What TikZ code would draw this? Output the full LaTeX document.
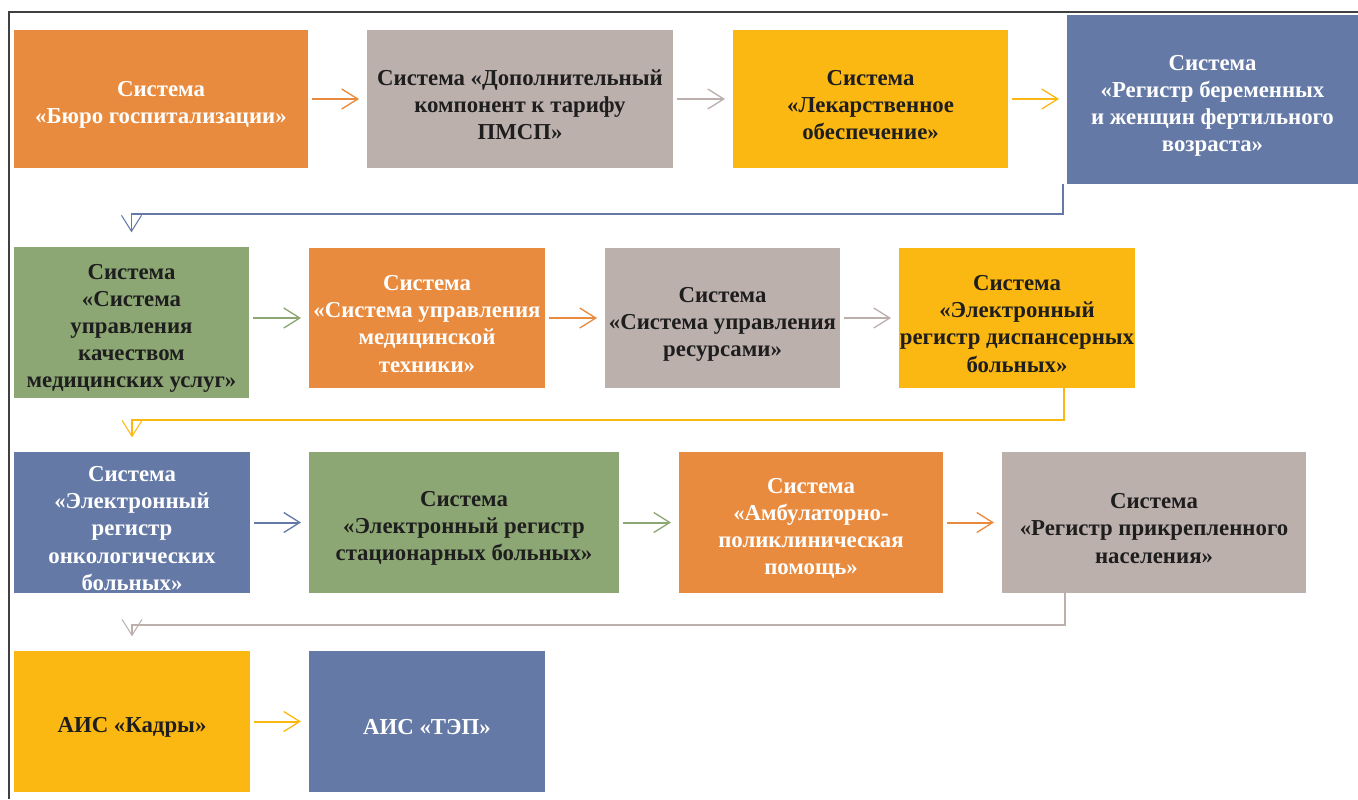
\documentclass[tikz,border=0pt]{standalone}
\usepackage{fontspec}
\setmainfont{Liberation Serif}
\usetikzlibrary{arrows.meta}

\definecolor{sysorange}{RGB}{233,139,63}
\definecolor{sysgray}{RGB}{188,176,173}
\definecolor{sysyellow}{RGB}{251,184,19}
\definecolor{sysblue}{RGB}{100,121,166}
\definecolor{sysgreen}{RGB}{141,167,116}
\definecolor{systext}{RGB}{30,30,30}

\begin{document}
\begin{tikzpicture}[x=0.75pt,y=-0.75pt,
    box/.style={rectangle,inner sep=0pt,outer sep=0pt},
    boxtext/.style={align=center,inner sep=0pt,yshift=-4.5pt,
      font=\fontsize{17.1}{20.3}\selectfont\bfseries},
    boxsize/.style 2 args={minimum width=#1*0.75pt,minimum height=#2*0.75pt},
    orangebox/.style={box,fill=sysorange,label={[boxtext,text=white]center:{#1}}},
    graybox/.style={box,fill=sysgray,label={[boxtext,text=systext]center:{#1}}},
    yellowbox/.style={box,fill=sysyellow,label={[boxtext,text=systext]center:{#1}}},
    bluebox/.style={box,fill=sysblue,label={[boxtext,text=white]center:{#1}}},
    greenbox/.style={box,fill=sysgreen,label={[boxtext,text=systext]center:{#1}}},
    flow/.style={draw=#1,line width=1.5pt,shorten <=3pt,shorten >=6pt,
      -{Straight Barb[length=12pt,width=15pt,line width=1pt]}},
    link/.style={draw=#1,line width=0.8pt,shorten >=11pt,
      -{Straight Barb[length=12pt,width=15pt,line width=0.8pt]}}]
    \useasboundingbox (0,0) rectangle (1358,799);

    % frame
    \draw [line width=1.2pt,black!75] (9,799) -- (9,12) -- (1358,12);

    % row 1
    \node[orangebox={Система\\«Бюро госпитализации»},
        boxsize={294}{138}] (B1) at (161,99) {};
    \node[graybox={Система «Дополнительный\\компонент к тарифу\\ПМСП»},
        boxsize={306}{138}] (B2) at (520,99) {};
    \node[yellowbox={Система\\«Лекарственное\\обеспечение»},
        boxsize={275}{138}] (B3) at (870.5,99) {};
    \node[bluebox={Система\\«Регистр беременных\\и женщин фертильного\\возраста»},
        boxsize={291}{169}] (B4) at (1212.5,99.5) {};

    % row 2
    \node[greenbox={Система\\«Система\\управления\\качеством\\медицинских услуг»},
        boxsize={235}{151}] (C1) at (131.5,322.5) {};
    \node[orangebox={Система\\«Система управления\\медицинской\\техники»},
        boxsize={236}{140}] (C2) at (427,318) {};
    \node[graybox={Система\\«Система управления\\ресурсами»},
        boxsize={235}{140}] (C3) at (722.5,318) {};
    \node[yellowbox={Система\\«Электронный\\регистр диспансерных\\больных»},
        boxsize={236}{140}] (C4) at (1017,318) {};

    % row 3
    \node[bluebox={Система\\«Электронный\\регистр\\онкологических\\больных»},
        boxsize={236}{141}] (D1) at (132,522.5) {};
    \node[greenbox={Система\\«Электронный регистр\\стационарных больных»},
        boxsize={310}{141}] (D2) at (464,522.5) {};
    \node[orangebox={Система\\«Амбулаторно-\\поликлиническая\\помощь»},
        boxsize={264}{141}] (D3) at (811,522.5) {};
    \node[graybox={Система\\«Регистр прикрепленного\\населения»},
        boxsize={304}{141}] (D4) at (1154,522.5) {};

    % row 4
    \node[yellowbox={АИС «Кадры»},boxsize={236}{141}] (E1) at (132,721.5) {};
    \node[bluebox={АИС «ТЭП»},boxsize={236}{141}] (E2) at (427,721.5) {};

    % arrows inside the rows
    \draw [flow=sysorange] (B1.east) -- (B2.west);
    \draw [flow=sysgray] (B2.east) -- (B3.west);
    \draw [flow=sysyellow] (B3.east) -- (B4.west |- B3.east);

    \draw [flow=sysgreen] (C1.east |- C2.west) -- (C2.west);
    \draw [flow=sysorange] (C2.east) -- (C3.west);
    \draw [flow=sysgray] (C3.east) -- (C4.west);

    \draw [flow=sysblue] (D1.east) -- (D2.west);
    \draw [flow=sysgreen] (D2.east) -- (D3.west);
    \draw [flow=sysorange] (D3.east) -- (D4.west);

    \draw [flow=sysyellow] (E1.east) -- (E2.west);

    % links between the rows
    \coordinate (turn1) at (1063,214);
    \coordinate (turn2) at (1064,420);
    \coordinate (turn3) at (1065,625);

    \draw [link=sysblue] (B4.south -| turn1) -- (turn1) -| (C1.north);
    \draw [link=sysyellow] (C4.south -| turn2) -- (turn2) -| (D1.north);
    \draw [link=sysgray] (D4.south -| turn3) -- (turn3) -| (E1.north);
\end{tikzpicture}
\end{document}
